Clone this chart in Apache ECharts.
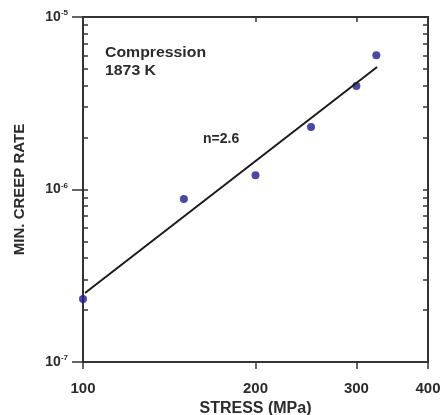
<!DOCTYPE html>
<html>
<head>
<meta charset="utf-8">
<script src="https://cdn.jsdelivr.net/npm/echarts@6/dist/echarts.min.js"></script>
<style>
  html, body { margin: 0; padding: 0; background: #fff; }
  #chart { width: 442px; height: 415px; }
</style>
</head>
<body>
<div id="chart"></div>
<script>
// 数据：应力 (MPa) 与最小蠕变速率
var stress = [100, 150, 200, 250, 300, 325]
var creepRate = [2.32e-7, 8.8e-7, 1.21e-6, 2.3e-6, 3.98e-6, 6.0e-6]
// 拟合直线 n=2.6 的两个端点
var fitStress = [100.8, 326]
var fitRate = [2.51e-7, 5.13e-6]
// 刻度
var xTicks = [100, 200, 300, 400]
var yDecades = [1e-7, 1e-6, 1e-5]

var yMinor = []
yDecades.slice(0, 2).forEach(function(d) {
  for (var k = 2; k <= 9; k++) yMinor.push(d * k)
})

var textColor = '#2b2b2b'
var lineColor = '#333'
var font = 'Liberation Sans, Arial, sans-serif'

function expLabel(v) {
  var e = Math.round(Math.log10(v))
  return '10{sup|' + e + '}'
}

var logY = { type: 'log', logBase: 10, min: 1e-7, max: 1e-5, splitLine: { show: false } }
var logX = { type: 'log', logBase: 10, min: 100, max: 400, splitLine: { show: false } }

var option = {
  animation: false,
  grid: { left: 83, right: 14, top: 17, bottom: 53, outerBoundsMode: 'none', containLabel: false },
  xAxis: [
    Object.assign({}, logX, {
      position: 'bottom',
      name: 'STRESS (MPa)',
      nameLocation: 'middle',
      nameGap: 38,
      nameTextStyle: { color: textColor, fontSize: 16, fontWeight: 'bold', fontFamily: font },
      axisLine: { show: true, lineStyle: { color: lineColor, width: 2 } },
      axisTick: { show: true, customValues: xTicks, length: 7, lineStyle: { color: lineColor, width: 1.5 } },
      axisLabel: { customValues: xTicks, margin: 19, color: textColor, fontSize: 15, fontWeight: 'bold', fontFamily: font }
    }),
    Object.assign({}, logX, {
      position: 'top',
      axisLine: { show: true, lineStyle: { color: lineColor, width: 2 } },
      axisTick: { show: true, inside: true, customValues: [200, 300], length: 5, lineStyle: { color: lineColor, width: 1.5 } },
      axisLabel: { show: false }
    })
  ],
  yAxis: [
    Object.assign({}, logY, {
      position: 'left',
      name: 'MIN. CREEP RATE',
      nameLocation: 'middle',
      nameRotate: 90,
      nameGap: 56,
      nameTextStyle: { color: textColor, fontSize: 15, fontWeight: 'bold', fontFamily: font },
      axisLine: { show: true, lineStyle: { color: lineColor, width: 2 } },
      axisTick: { show: true, customValues: yDecades, length: 11, lineStyle: { color: lineColor, width: 1.5 } },
      axisLabel: {
        customValues: yDecades,
        margin: 15,
        color: textColor,
        fontSize: 14,
        fontWeight: 'bold',
        fontFamily: font,
        formatter: expLabel,
        rich: { sup: { fontSize: 8, fontWeight: 'bold', color: textColor, padding: [0, 0, 8, 0] } }
      }
    }),
    Object.assign({}, logY, {
      position: 'left',
      axisLine: { show: false },
      axisTick: { show: true, inside: true, customValues: yMinor.concat([1e-6]), length: 5, lineStyle: { color: lineColor, width: 1.5 } },
      axisLabel: { show: false }
    }),
    Object.assign({}, logY, {
      position: 'right',
      axisLine: { show: true, lineStyle: { color: lineColor, width: 2 } },
      axisTick: { show: true, inside: true, customValues: yMinor.concat(yDecades), length: 5, lineStyle: { color: lineColor, width: 1.5 } },
      axisLabel: { show: false }
    })
  ],
  graphic: [
    { type: 'text', x: 105, y: 46, scaleX: 1.13, style: { text: 'Compression', fill: textColor, font: 'bold 14px ' + font } },
    { type: 'text', x: 105, y: 64, scaleX: 1.13, style: { text: '1873 K', fill: textColor, font: 'bold 14px ' + font } },
    { type: 'text', x: 203, y: 132, scaleX: 1.0, style: { text: 'n=2.6', fill: textColor, font: 'bold 14px ' + font } }
  ],
  series: [
    {
      name: 'fit',
      type: 'line',
      xAxisIndex: 0,
      yAxisIndex: 0,
      symbol: 'none',
      lineStyle: { color: '#1a1a1a', width: 2 },
      data: fitStress.map(function(x, i) { return [x, fitRate[i]] })
    },
    {
      name: 'data',
      type: 'scatter',
      xAxisIndex: 0,
      yAxisIndex: 0,
      symbol: 'circle',
      symbolSize: 8,
      itemStyle: { color: '#1c1c8e' },
      data: stress.map(function(x, i) { return [x, creepRate[i]] })
    }
  ]
}

var myChart = echarts.init(document.getElementById('chart'))
myChart.setOption(option)
</script>
</body>
</html>
